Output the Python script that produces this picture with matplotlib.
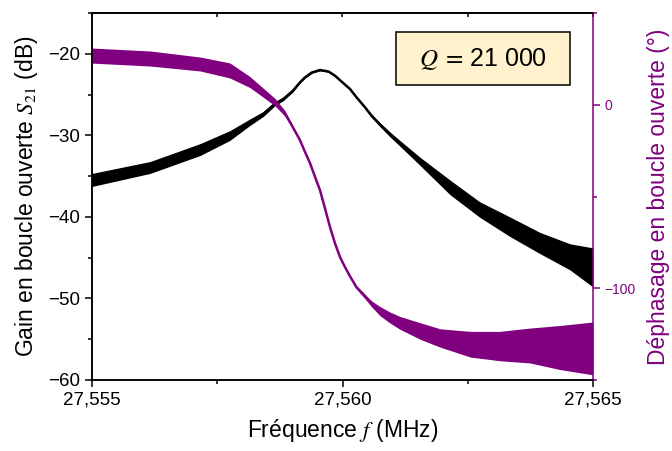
import matplotlib
matplotlib.use("Agg")
import matplotlib.pyplot as plt
from matplotlib.patches import Rectangle
from matplotlib.ticker import MultipleLocator

# values
gain_freq = [27.55500, 27.55616, 27.55716, 27.55775, 27.55815, 27.55842, 27.55865,
             27.55882, 27.55901, 27.55915, 27.55925, 27.55939, 27.55955, 27.55972,
             27.55985, 27.55998, 27.56015, 27.56028, 27.56045, 27.56058, 27.56075,
             27.56095, 27.56115, 27.56155, 27.56215, 27.56274, 27.56334, 27.56394,
             27.56454, 27.56500]
gain_db = [-35.47, -33.94, -31.74, -30.03, -28.40, -27.38, -26.13,
           -25.54, -24.53, -23.51, -22.90, -22.29, -21.99, -22.17,
           -22.69, -23.40, -24.32, -25.34, -26.57, -27.60, -28.70,
           -29.90, -31.00, -33.20, -36.40, -39.10, -41.20, -43.20,
           -44.90, -46.20]
gain_noise = [0.8, 0.73, 0.73, 0.6, 0.4, 0.3, 0.25,
              0.2, 0.15, 0.1, 0.1, 0.1, 0.1, 0.1,
              0.1, 0.1, 0.1, 0.1, 0.15, 0.2, 0.25,
              0.3, 0.35, 0.5, 0.9, 0.95, 1.2, 1.3,
              1.6, 2.4]

phase_freq = [27.55500, 27.55616, 27.55716, 27.55775, 27.55815, 27.55865, 27.55885,
              27.55895, 27.55915, 27.55925, 27.55935, 27.55945, 27.55955, 27.55965,
              27.55975, 27.55985, 27.55995, 27.56005, 27.56015, 27.56028, 27.56045,
              27.56058, 27.56075, 27.56095, 27.56115, 27.56155, 27.56195, 27.56255,
              27.56314, 27.56374, 27.56434, 27.56500]
phase_deg = [26.8, 25.2, 22.2, 18.7, 12.4, 1.5, -4.7,
             -9.4, -19.2, -25.6, -31.7, -39.2, -46.5, -56.4,
             -66.6, -75.5, -83.0, -88.5, -93.5, -99.5, -104.5,
             -108.5, -112.5, -116.0, -118.9, -123.3, -127.1, -130.5,
             -131.5, -131.2, -132.3, -132.8]
phase_noise = [4.1, 4.1, 3.8, 4.1, 3.0, 2.0, 1.5,
               1.0, 0.3, 0.3, 0.3, 0.3, 0.3, 0.3,
               0.3, 0.3, 0.3, 0.3, 0.5, 0.8, 1.2,
               1.6, 2.5, 3.0, 3.5, 4.5, 5.0, 7.0,
               8.0, 9.5, 12.0, 14.4]

xticks = [27.555, 27.560, 27.565]
xtick_labels = ["27,555", "27,560", "27,565"]

purple = "#800080"

plt.rcParams['font.family'] = ['Liberation Sans', 'DejaVu Sans']
plt.rcParams['mathtext.fontset'] = 'stix'

fig = plt.figure(figsize=(6.72, 4.51), dpi=100)
ax = fig.add_axes([92/672, 71/451, 501/672, 367/451])
ax2 = ax.twinx()

# gain (black)
lo = [g - n for g, n in zip(gain_db, gain_noise)]
hi = [g + n for g, n in zip(gain_db, gain_noise)]
ax.fill_between(gain_freq, lo, hi, color="black", lw=0)
ax.plot(gain_freq, gain_db, color="black", lw=1.8)

# phase (purple)
lo = [p - n for p, n in zip(phase_deg, phase_noise)]
hi = [p + n for p, n in zip(phase_deg, phase_noise)]
ax2.fill_between(phase_freq, lo, hi, color=purple, lw=0)
ax2.plot(phase_freq, phase_deg, color=purple, lw=1.8)

ax.set_xlim(27.555, 27.565)
ax.set_ylim(-60, -15)
ax2.set_ylim(-150, 50)

ax.set_xticks(xticks)
ax.set_xticklabels(xtick_labels)
ax.xaxis.set_minor_locator(MultipleLocator(0.0025))
ax.set_yticks([-60, -50, -40, -30, -20])
ax.yaxis.set_minor_locator(MultipleLocator(5))
ax2.set_yticks([-100, 0])
ax2.yaxis.set_minor_locator(MultipleLocator(50))

ax.tick_params(which="both", direction="out", width=1.1, labelsize=13.5, top=False)
ax.tick_params(which="major", length=5)
ax.tick_params(which="minor", length=3)
ax2.tick_params(which="both", direction="out", width=1.1, colors=purple, labelsize=10)
ax2.tick_params(which="major", length=5)
ax2.tick_params(which="minor", length=3)

top = ax.secondary_xaxis("top")
top.set_xticks(xticks)
top.xaxis.set_minor_locator(MultipleLocator(0.0025))
top.tick_params(which="both", direction="in", length=3, width=1.1, labeltop=False)

for s in ["left", "bottom", "top"]:
    ax.spines[s].set_linewidth(1.1)
    ax2.spines[s].set_linewidth(1.1)
top.spines["top"].set_linewidth(1.1)
ax2.spines["right"].set_color(purple)
ax2.spines["right"].set_linewidth(1.1)
ax.spines["right"].set_visible(False)

ax.set_xlabel(r"Fréquence $f$ (MHz)", fontsize=16.5, labelpad=6)
ax.set_ylabel(r"Gain en boucle ouverte $\it{S}_{\it{21}}$ (dB)", fontsize=16.5, labelpad=6)
ax2.set_ylabel("Déphasage en boucle ouverte (°)", fontsize=16.5, color=purple, labelpad=8)

# Q box
ax2.add_patch(Rectangle((0.607, 0.804), 0.347, 0.144, transform=ax2.transAxes,
                        facecolor="#FFF2CC", edgecolor="black", lw=1.1, zorder=5))
ax2.text(0.78, 0.876, r"$Q\;=\,$21 000", transform=ax2.transAxes, fontsize=18,
         ha="center", va="center", zorder=6)

fig.savefig("out.png", dpi=100)
